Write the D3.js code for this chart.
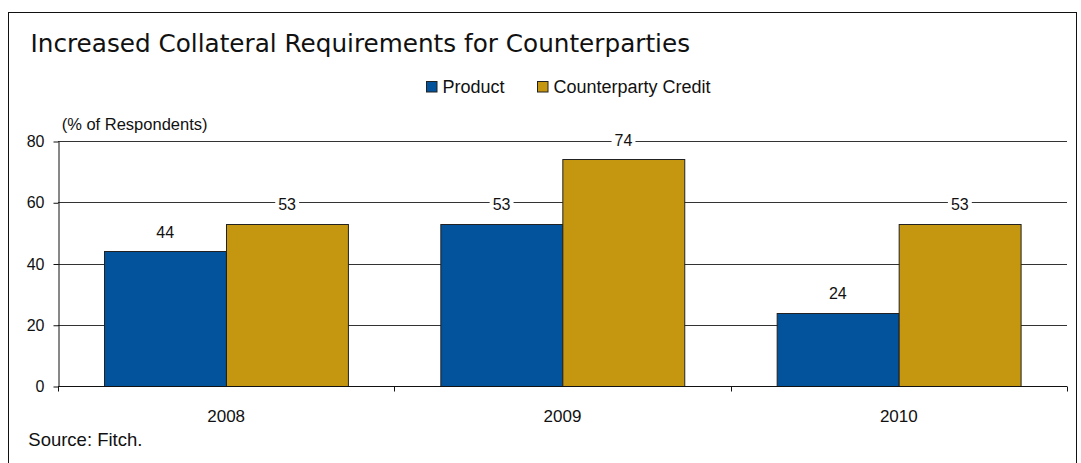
<!DOCTYPE html>
<html>
<head>
<meta charset="utf-8">
<script src="https://cdn.jsdelivr.net/npm/d3@7/dist/d3.min.js"></script>
<style>
  html, body { margin: 0; padding: 0; background: #fff; }
  svg { display: block; font-family: "Liberation Sans", Arial, sans-serif; }
  text { fill: #111; }
</style>
</head>
<body>
<svg id="chart" width="1081" height="463"></svg>
<script>
// Survey shares by year and collateral type
const years = ["2008", "2009", "2010"];
const seriesNames = ["Product", "Counterparty Credit"];
const productValues = [44, 53, 24];
const counterpartyValues = [53, 74, 53];
const yTicks = [0, 20, 40, 60, 80];
const seriesColors = ["#02539c", "#c5960f"];

const titleText = "Increased Collateral Requirements for Counterparties";
const unitLabel = "(% of Respondents)";
const sourceText = "Source: Fitch.";

const svg = d3.select("#chart");

// outer frame (open at the bottom edge)
svg.append("rect")
  .attr("x", 8.5).attr("y", 12.5)
  .attr("width", 1068).attr("height", 470)
  .attr("fill", "none").attr("stroke", "#111").attr("stroke-width", 1);

svg.append("text")
  .attr("x", 30.5).attr("y", 51.7)
  .attr("font-family", "DejaVu Sans, sans-serif")
  .attr("font-size", 24.7)
  .text(titleText);

// legend
const legendItems = [
  { name: seriesNames[0], color: seriesColors[0], x: 426.5 },
  { name: seriesNames[1], color: seriesColors[1], x: 537.5 }
];
const lg = svg.append("g").selectAll("g").data(legendItems).join("g")
  .attr("transform", d => `translate(${d.x},0)`);
lg.append("rect")
  .attr("x", 0).attr("y", 81.5).attr("width", 10.5).attr("height", 10.5)
  .attr("fill", d => d.color).attr("stroke", "#222").attr("stroke-width", 1);
lg.append("text")
  .attr("x", 16).attr("y", 92.5)
  .attr("font-size", 18)
  .text(d => d.name);

svg.append("text")
  .attr("x", 61.7).attr("y", 130)
  .attr("font-size", 16.5)
  .text(unitLabel);

// scales
const plotLeft = 58, plotRight = 1067, plotTop = 141, plotBottom = 386;
const x0 = d3.scaleBand().domain(years).range([plotLeft, plotRight]).padding(0);
const groupGap = 0.1375;
const x1 = d3.scaleBand().domain(seriesNames)
  .range([x0.bandwidth() * groupGap, x0.bandwidth() * (1 - groupGap)]).padding(0);
const y = d3.scaleLinear().domain([0, 80]).range([plotBottom, plotTop]);

// horizontal gridlines
svg.append("g").selectAll("line").data(yTicks.filter(t => t > 0)).join("line")
  .attr("x1", plotLeft).attr("x2", plotRight)
  .attr("y1", d => Math.round(y(d)) + 0.5).attr("y2", d => Math.round(y(d)) + 0.5)
  .attr("stroke", "#333").attr("stroke-width", 1);

// y axis
const yAxis = svg.append("g")
  .attr("transform", `translate(${plotLeft + 0.5},0.5)`)
  .call(d3.axisLeft(y).tickValues(yTicks).tickSize(5).tickSizeOuter(0).tickPadding(9));
yAxis.select(".domain").attr("stroke", "#111");
yAxis.selectAll(".tick line").attr("stroke", "#111");
yAxis.selectAll(".tick text")
  .attr("font-family", "Liberation Sans, Arial, sans-serif")
  .attr("font-size", 16).attr("fill", "#111");

// bars
const rows = years.map((yr, i) => ({
  year: yr,
  values: [
    { series: seriesNames[0], value: productValues[i], color: seriesColors[0] },
    { series: seriesNames[1], value: counterpartyValues[i], color: seriesColors[1] }
  ]
}));

const groups = svg.append("g").selectAll("g").data(rows).join("g")
  .attr("transform", d => `translate(${x0(d.year)},0)`);

groups.selectAll("rect").data(d => d.values).join("rect")
  .attr("x", d => Math.round(x1(d.series)) + 0.5)
  .attr("y", d => Math.round(y(d.value)) + 0.5)
  .attr("width", x1.bandwidth())
  .attr("height", d => Math.round(y(0)) - Math.round(y(d.value)))
  .attr("fill", d => d.color)
  .attr("stroke", "#222").attr("stroke-width", 1);

// value labels with white backing
const labels = groups.selectAll("g.lab").data(d => d.values).join("g").attr("class", "lab");
labels.append("rect").attr("fill", "#fff");
labels.append("text")
  .attr("x", d => x1(d.series) + x1.bandwidth() / 2)
  .attr("y", d => y(d.value) - 13.5)
  .attr("text-anchor", "middle")
  .attr("font-size", 16)
  .text(d => d.value);
labels.each(function () {
  const g = d3.select(this);
  const bb = g.select("text").node().getBBox();
  g.select("rect")
    .attr("x", bb.x - 3).attr("y", bb.y + 2)
    .attr("width", bb.width + 6).attr("height", bb.height - 4);
});

// x axis line with boundary ticks
const xAxisY = Math.round(y(0)) + 0.5;
svg.append("line")
  .attr("x1", plotLeft).attr("x2", plotRight)
  .attr("y1", xAxisY).attr("y2", xAxisY)
  .attr("stroke", "#111");
const boundaries = years.map(yr => x0(yr)).concat([x0(years[years.length - 1]) + x0.bandwidth()]);
svg.append("g").selectAll("line").data(boundaries).join("line")
  .attr("x1", d => Math.round(d) + 0.5).attr("x2", d => Math.round(d) + 0.5)
  .attr("y1", xAxisY).attr("y2", xAxisY + 5)
  .attr("stroke", "#111");
svg.append("g").selectAll("text").data(years).join("text")
  .attr("x", d => x0(d) + x0.bandwidth() / 2)
  .attr("y", 421.5)
  .attr("text-anchor", "middle")
  .attr("font-size", 17)
  .text(d => d);

svg.append("text")
  .attr("x", 28.3).attr("y", 445.7)
  .attr("font-size", 18.5)
  .text(sourceText);
</script>
</body>
</html>
